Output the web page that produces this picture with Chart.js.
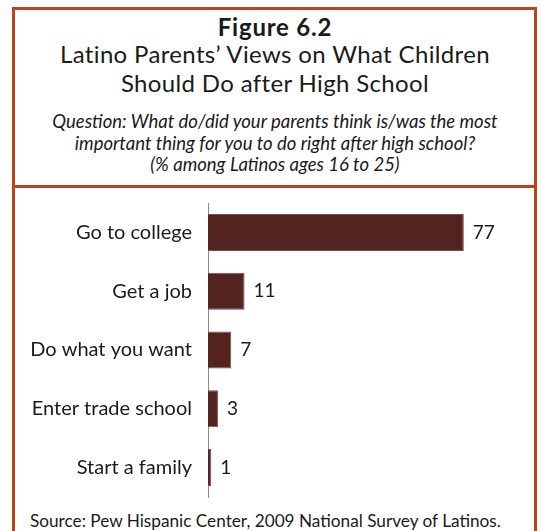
<!DOCTYPE html>
<html>
<head>
<meta charset="utf-8">
<script src="https://cdn.jsdelivr.net/npm/chart.js@4/dist/chart.umd.min.js"></script>
<style>
  html, body { margin: 0; padding: 0; background: #fff; }
  body { width: 541px; height: 531px; position: relative; overflow: hidden; font-family: Lato, "Open Sans", sans-serif; color: #1a1a1a; }
  #frame { position: absolute; left: 12px; top: 7px; width: 525px; height: 540px; border: 3px solid #bb431c; box-sizing: border-box; }
  #sep { position: absolute; left: 12px; top: 185px; width: 525px; height: 3px; background: #bb431c; }
  .t { position: absolute; left: 13px; width: 524px; text-align: center; white-space: nowrap; line-height: 1; }
  #fig { top: 15px; font-size: 24px; font-weight: 700; letter-spacing: 0.8px; }
  #h1 { top: 42px; font-size: 24px; letter-spacing: 0.35px; }
  #h2 { top: 71px; font-size: 24px; letter-spacing: 0.35px; }
  .q { font-style: italic; font-size: 18.5px; }
  #q1 { top: 112px; }
  #q2 { top: 134px; }
  #q3 { top: 155px; }
  #src { position: absolute; left: 30px; top: 512px; font-size: 17.2px; white-space: nowrap; line-height: 1; }
  #wrap { position: absolute; left: 0; top: 0; width: 541px; height: 531px; }
</style>
</head>
<body>
<div id="frame"></div>
<div id="sep"></div>
<div class="t" id="fig">Figure 6.2</div>
<div class="t" id="h1">Latino Parents’ Views on What Children</div>
<div class="t" id="h2">Should Do after High School</div>
<div class="t q" id="q1">Question: What do/did your parents think is/was the most</div>
<div class="t q" id="q2">important thing for you to do right after high school?</div>
<div class="t q" id="q3">(% among Latinos ages 16 to 25)</div>
<div id="src">Source: Pew Hispanic Center, 2009 National Survey of Latinos.</div>
<div id="wrap"><canvas id="c" width="541" height="531"></canvas></div>
<script>
// Answers, top to bottom
const categories = ["Go to college", "Get a job", "Do what you want", "Enter trade school", "Start a family"];
// Share of respondents (%)
const percents = [77, 11, 7, 3, 1];

// Writes each bar's value just past its end
const valueLabels = {
  id: "valueLabels",
  afterDatasetsDraw(chart) {
    const ctx = chart.ctx;
    const meta = chart.getDatasetMeta(0);
    ctx.save();
    ctx.font = "19px Lato, 'Open Sans', sans-serif";
    ctx.fillStyle = "#1a1a1a";
    ctx.textAlign = "left";
    ctx.textBaseline = "middle";
    meta.data.forEach((bar, i) => {
      ctx.fillText(String(percents[i]), bar.x + 9, bar.y);
    });
    ctx.restore();
  }
};

new Chart(document.getElementById("c"), {
  type: "bar",
  data: {
    labels: categories,
    datasets: [{
      data: percents,
      backgroundColor: "#53231f",
      borderColor: "#7d4d44",
      borderWidth: 1,
      barPercentage: 0.63,
      categoryPercentage: 1
    }]
  },
  options: {
    indexAxis: "y",
    responsive: false,
    animation: false,
    devicePixelRatio: 1,
    layout: { padding: { top: 203, bottom: 34, left: 0, right: 34 } },
    plugins: { legend: { display: false }, tooltip: { enabled: false } },
    scales: {
      x: { display: false, min: 0, max: 90 },
      y: {
        afterFit(scale) { scale.width = 208; },
        grid: { display: false, drawTicks: false },
        border: { display: true, color: "#8a8a8a", width: 1 },
        ticks: {
          padding: 16,
          color: "#1a1a1a",
          font: { family: "Lato, 'Open Sans', sans-serif", size: 20 }
        }
      }
    }
  },
  plugins: [valueLabels]
});
</script>
</body>
</html>
